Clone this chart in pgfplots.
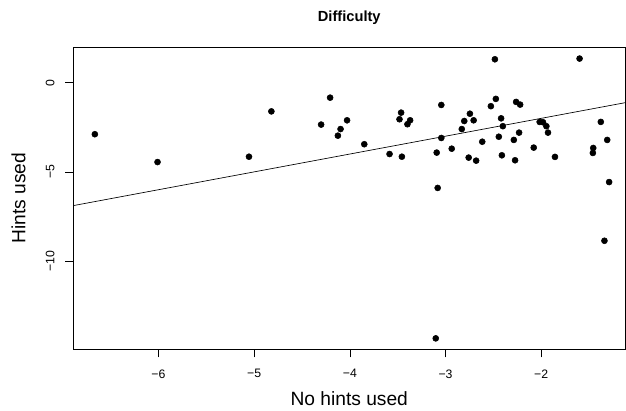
\documentclass[border=0pt]{standalone}
\usepackage{pgfplots}
\pgfplotsset{compat=1.18}
\usepackage{fontspec}
\setmainfont{Liberation Sans}

\pgfplotstableread{
x y
-6.665 -2.89
-6.010 -4.45
-5.054 -4.15
-4.820 -1.61
-4.300 -2.35
-4.206 -0.84
-4.125 -2.97
-4.097 -2.60
-4.029 -2.11
-3.849 -3.45
-3.585 -4.00
-3.456 -4.15
-3.464 -1.68
-3.481 -2.05
-3.370 -2.11
-3.398 -2.33
-3.044 -1.25
-3.044 -3.10
-3.092 -3.92
-3.082 -5.90
-2.935 -3.70
-2.830 -2.60
-2.804 -2.15
-2.745 -1.74
-2.706 -2.11
-2.758 -4.20
-2.680 -4.37
-2.616 -3.31
-2.526 -1.32
-2.484 1.31
-2.474 -0.91
-2.419 -2.00
-2.401 -2.44
-2.443 -3.03
-2.411 -4.07
-2.273 -4.35
-2.286 -3.21
-2.231 -2.80
-2.262 -1.08
-2.220 -1.23
-2.078 -3.64
-2.016 -2.20
-1.981 -2.22
-1.946 -2.44
-1.929 -2.80
-1.856 -4.16
-1.599 1.35
-1.377 -2.20
-1.456 -3.66
-1.460 -3.94
-1.310 -3.21
-1.290 -5.57
-1.339 -8.86
-3.102 -14.33
}\pts

\begin{document}
\begin{tikzpicture}
\useasboundingbox (-55pt,-46.3pt) rectangle (414.6pt,262pt);
\begin{axis}[
    at={(0,0)}, anchor=south west,
    scale only axis,
    width=414.15pt, height=226.5pt,
    xmin=-6.89, xmax=-1.12,
    ymin=-14.94, ymax=1.98,
    xtick={-6,-5,-4,-3,-2},
    xticklabels={−6,−5,−4,−3,−2},
    ytick={-10,-5,0},
    yticklabels={−10,−5,0},
    xtick pos=bottom, ytick pos=left,
    tick align=outside,
    major tick length=6pt,
    tick style={black, line width=0.5pt},
    axis line style={black, line width=0.5pt},
    xticklabel style={font=\fontsize{9.2pt}{10pt}\selectfont, anchor=north, inner sep=0pt, yshift=-9pt},
    yticklabel style={font=\fontsize{9.2pt}{10pt}\selectfont, rotate=90, anchor=south, inner sep=0pt, yshift=8pt},
    clip=true,
]
\addplot[only marks, mark=*, mark size=2.25pt, mark options={fill=black, draw=black}] table[x=x, y=y] {\pts};
\addplot[black, line width=0.5pt] coordinates {(-7,-7) (-1,-1)};
\end{axis}
\node[font=\bfseries\fontsize{11pt}{12pt}\selectfont, anchor=base] at (207pt,245.7pt) {Difficulty};
\node[font=\fontsize{14.4pt}{16pt}\selectfont, anchor=base] at (207pt,-42pt) {No hints used};
\node[font=\fontsize{14.4pt}{16pt}\selectfont, anchor=base, rotate=90] at (-36pt,113.25pt) {Hints used};
\end{tikzpicture}
\end{document}
